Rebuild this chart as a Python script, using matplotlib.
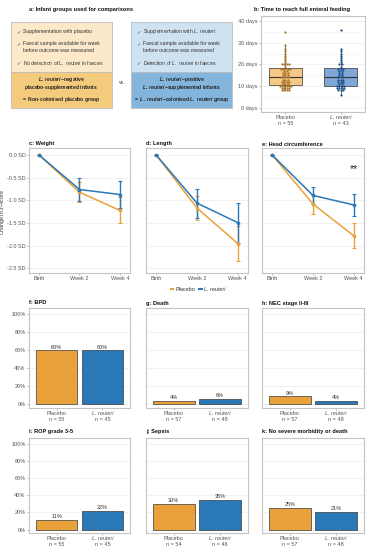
import matplotlib
matplotlib.use("Agg")
import matplotlib.pyplot as plt
from matplotlib.lines import Line2D
from matplotlib.patches import Rectangle
import numpy as np

plt.rcParams['font.family'] = ['Liberation Sans', 'DejaVu Sans']
plt.rcParams['mathtext.fontset'] = 'custom'
plt.rcParams['mathtext.rm'] = 'Liberation Sans'
plt.rcParams['mathtext.it'] = 'Liberation Sans:italic'
plt.rcParams['mathtext.bf'] = 'Liberation Sans:bold'
plt.rcParams['mathtext.bfit'] = 'Liberation Sans:bold:italic'

W, H = 366, 550

# ---------------- data ----------------
group_labels = ["Placebo", "L. reuteri"]

feed_placebo = [8, 8, 8, 8, 9, 9, 9, 9, 10, 10, 10, 10, 10, 10, 11, 11, 11,
                12, 12, 12, 12, 13, 13, 13, 14, 14, 14, 14, 15, 15, 15, 16, 16, 16,
                17, 17, 18, 18, 18, 18, 18, 19, 20, 20, 20, 20, 21, 22, 23, 24, 25,
                26, 27, 29, 35]
feed_reuteri = [6, 8, 8, 8, 9, 9, 9, 9, 10, 10, 10, 10, 11, 11, 12, 12, 12, 13,
                13, 13, 14, 14, 14, 15, 15, 16, 16, 17, 17, 18, 18, 18, 19, 20, 20,
                21, 22, 23, 24, 25, 26, 27, 36]
feed_n = [55, 43]
feed_ticks = [0, 10, 20, 30, 40]

time_labels = ["Birth", "Week 2", "Week 4"]
growth_titles = ["c: Weight", "d: Length", "e: Head circumference"]
growth_placebo = [[0, -0.82, -1.22], [0, -1.17, -1.95], [0, -1.08, -1.78]]
growth_placebo_lo = [[0, -1.04, -1.50], [0, -1.43, -2.33], [0, -1.29, -2.06]]
growth_placebo_hi = [[0, -0.60, -0.93], [0, -0.90, -1.57], [0, -0.87, -1.50]]
growth_reuteri = [[0, -0.76, -0.87], [0, -1.06, -1.49], [0, -0.89, -1.10]]
growth_reuteri_lo = [[0, -1.02, -1.17], [0, -1.38, -1.93], [0, -1.07, -1.34]]
growth_reuteri_hi = [[0, -0.50, -0.57], [0, -0.74, -1.05], [0, -0.71, -0.86]]
growth_ticks = [0.0, -0.5, -1.0, -1.5, -2.0, -2.5]
growth_tick_labels = ["0.0 SD", "-0.5 SD", "-1.0 SD", "-1.5 SD", "-2.0 SD", "-2.5 SD"]

outcome_titles = ["f: BPD", "g: Death", "h: NEC stage II-III",
                  "i: ROP grade 3-5", "j: Sepsis", "k: No severe morbidity or death"]
outcome_placebo_pct = [60, 4, 9, 11, 30, 25]
outcome_reuteri_pct = [60, 6, 4, 22, 35, 21]
outcome_placebo_n = [55, 57, 57, 55, 54, 57]
outcome_reuteri_n = [45, 48, 48, 45, 46, 48]
pct_ticks = [0, 20, 40, 60, 80, 100]

ORANGE = "#E9A23B"
BLUE = "#2A78B8"
SPINE = "#c4c4c4"
GRID = "#ececec"
TICKLAB = "#555555"
FS = 4.0
TICK_LEN = 1.6
TICK_PAD = 0.8

fig = plt.figure(figsize=(W / 100, H / 100), dpi=100)


def add_ax(x0, y0, x1, y1):
    return fig.add_axes([x0 / W, 1 - y1 / H, (x1 - x0) / W, (y1 - y0) / H])


def style(ax, show_y=True):
    for s in ax.spines.values():
        s.set_color(SPINE)
        s.set_linewidth(0.8)
    ax.tick_params(colors="#9a9a9a", labelcolor=TICKLAB, labelsize=FS,
                   length=TICK_LEN, width=0.5, pad=TICK_PAD)
    if not show_y:
        ax.tick_params(axis="y", labelleft=False, length=0)
    ax.grid(axis="y", color=GRID, lw=0.5)
    ax.set_axisbelow(True)


def group_xlabels(ax, ns):
    """Group names as tick labels (L. reuteri italic), n as a second line."""
    ax.set_xticks([0, 1])
    ax.set_xticklabels(group_labels)
    ax.get_xticklabels()[1].set_fontstyle("italic")
    for i, n in enumerate(ns):
        ax.annotate(f"n = {n}", xy=(i, 0), xycoords=("data", "axes fraction"),
                    xytext=(0, -(TICK_LEN + TICK_PAD + 4.4)), textcoords="offset points",
                    ha="center", va="top", fontsize=FS, color=TICKLAB)


def ftitle(x, y, s, size=4.1):
    fig.text(x / W, 1 - y / H, s, fontsize=size, fontweight="bold",
             ha="left", va="center", color="#111111")


# ---------------- panel a (diagram) ----------------
ov = fig.add_axes([0, 0, 1, 1])
ov.set_xlim(0, W)
ov.set_ylim(H, 0)
ov.axis("off")
ftitle(29, 10, "a: Infant groups used for comparisons")

boxes = [
    (11, "#fbe9c9", "#f4cb7c",
     ["Supplementation with placebo",
      "Faecal sample available for week\nbefore outcome was measured",
      r"No detection of $\it{L.\ reuteri}$ in faeces"],
     [r"$\mathbfit{L.\ reuteri}$$\bf{-negative}$",
      r"$\bf{placebo\text{-}supplemented\ infants}$",
      r"$\bf{=\ Non\text{-}colonised\ placebo\ group}$"]),
    (131, "#cfe2f2", "#84b5dc",
     [r"Supplementation with $\it{L.\ reuteri}$",
      "Faecal sample available for week\nbefore outcome was measured",
      r"Detection of $\it{L.\ reuteri}$ in faeces"],
     [r"$\mathbfit{L.\ reuteri}$$\bf{-positive}$",
      r"$\mathbfit{L.\ reuteri}$$\bf{-supplemented\ infants}$",
      r"$\bf{=}$ $\mathbfit{L.\ reuteri}$$\bf{-colonised}$ $\mathbfit{L.\ reuteri}$ $\bf{group}$"]),
]
for x0, ctop, cbot, tlines, blines in boxes:
    ov.add_patch(Rectangle((x0, 22), 101, 49.5, facecolor=ctop, edgecolor="#bdbdbd", lw=0.6))
    ov.add_patch(Rectangle((x0, 71.5), 101, 36.5, facecolor=cbot, edgecolor="#bdbdbd", lw=0.6))
    for (yy, txt) in zip([31.5, 47, 63], tlines):
        ov.text(x0 + 5, yy if "\n" not in txt else 44, "\u2713", fontsize=3.8,
                color="#555555", va="center", ha="left", family="DejaVu Sans")
        ov.text(x0 + 12, yy, txt, fontsize=3.7, color="#333333", va="center",
                ha="left", linespacing=1.3)
    for (yy, txt) in zip([79.3, 87.2, 99], blines):
        ov.text(x0 + 50.5, yy, txt, fontsize=3.6, color="#222222", va="center", ha="center")
ov.text(122, 83, "vs.", fontsize=3.7, color="#444444", ha="center", va="center")

# ---------------- panel b (boxplot + dots) ----------------
ftitle(254, 10, "b: Time to reach full enteral feeding")
axb = add_ax(261, 15.5, 365, 112)
style(axb)
feeds = [feed_placebo, feed_reuteri]
bp = axb.boxplot(feeds, positions=[0, 1], widths=0.6, patch_artist=True,
                 showfliers=False, whis=1.5,
                 medianprops=dict(color="#333333", lw=0.8),
                 whiskerprops=dict(color="#333333", lw=0.5),
                 capprops=dict(lw=0), boxprops=dict(edgecolor="#333333", lw=0.5))
for patch, fc in zip(bp["boxes"], ["#f5c886", "#7fa6d6"]):
    patch.set_facecolor(fc)
for i, (vals, dc) in enumerate(zip(feeds, ["#a8762a", "#1e4f86"])):
    vals = np.asarray(vals)
    xs, ys = [], []
    for v in np.unique(vals):
        k = int(np.sum(vals == v))
        for j in range(k):
            xs.append(i + (j - (k - 1) / 2) * 0.042)
            ys.append(v)
    axb.scatter(xs, ys, s=2.6, color=dc, zorder=3, linewidths=0)
axb.set_xlim(-0.44, 1.44)
axb.set_ylim(-2, 42.6)
axb.set_yticks(feed_ticks)
axb.set_yticklabels([f"{t} days" for t in feed_ticks])
axb.set_yticks([5, 15, 25, 35], minor=True)
axb.tick_params(axis="y", which="minor", length=0)
axb.grid(axis="y", which="minor", color="#f4f4f4", lw=0.4)
group_xlabels(axb, feed_n)

# ---------------- panels c, d, e (growth) ----------------
gx = [(29, 130), (146, 248), (262, 364)]
for k, (x0, x1) in enumerate(gx):
    ax = add_ax(x0, 148, x1, 273)
    style(ax, show_y=(k == 0))
    xpos = np.arange(len(time_labels))
    for vals, lo, hi, col in [
        (growth_placebo[k], growth_placebo_lo[k], growth_placebo_hi[k], ORANGE),
        (growth_reuteri[k], growth_reuteri_lo[k], growth_reuteri_hi[k], BLUE),
    ]:
        vals = np.asarray(vals)
        yerr = np.vstack([vals - np.asarray(lo), np.asarray(hi) - vals])
        ax.errorbar(xpos, vals, yerr=yerr, color=col, lw=1.1, marker="o", ms=1.6,
                    elinewidth=1.0, capsize=1.3, capthick=0.8)
    ax.set_xlim(-0.25, 2.25)
    ax.set_ylim(-2.6, 0.155)
    ax.set_yticks(growth_ticks)
    ax.set_yticklabels(growth_tick_labels)
    ax.set_xticks(xpos)
    ax.set_xticklabels(time_labels)
    if k == 2:
        ax.text(2, -0.3, "**", fontsize=7.5, ha="center", va="center", color="#222222")
    ftitle(x0, 144, growth_titles[k])
fig.text(3 / W, 1 - 212 / H, r"Change in $\it{z}$$-$score", rotation=90,
         fontsize=3.8, color="#333333", ha="center", va="center")
fig.legend(handles=[Line2D([], [], color=ORANGE, lw=1.5),
                    Line2D([], [], color=BLUE, lw=1.5)],
           labels=["Placebo", "L. reuteri"], loc="center",
           bbox_to_anchor=(198 / W, 1 - 289 / H), ncol=2, frameon=False,
           fontsize=FS, handlelength=0.4, handletextpad=0.4, columnspacing=0.8,
           labelcolor="#333333")
fig.legends[0].get_texts()[1].set_fontstyle("italic")

# ---------------- panels f-k (bars) ----------------
rows = [(308, 408, 303), (438, 533, 432)]
for idx in range(6):
    r, c = divmod(idx, 3)
    top, bot, ty = rows[r]
    x0, x1 = gx[c]
    ax = add_ax(x0, top, x1, bot)
    style(ax, show_y=(c == 0))
    vals = [outcome_placebo_pct[idx], outcome_reuteri_pct[idx]]
    bars = ax.bar([0, 1], vals, width=0.9, color=[ORANGE, BLUE],
                  edgecolor="#3a3a3a", lw=0.5, zorder=2)
    ax.bar_label(bars, labels=[f"{v}%" for v in vals], fontsize=FS,
                 color="#333333", padding=0.5)
    ax.set_xlim(-0.6, 1.6)
    ax.set_ylim(-4, 107)
    ax.set_yticks(pct_ticks)
    ax.set_yticklabels([f"{t}%" for t in pct_ticks])
    group_xlabels(ax, [outcome_placebo_n[idx], outcome_reuteri_n[idx]])
    ftitle(x0, ty, outcome_titles[idx])

fig.savefig("out.png", dpi=100, facecolor="white")
